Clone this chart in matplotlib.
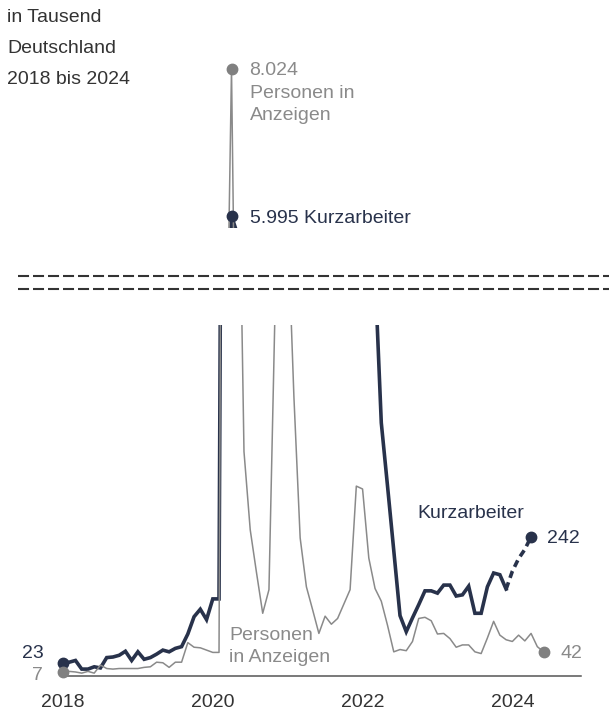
import numpy as np
import matplotlib
matplotlib.use("Agg")
import matplotlib.pyplot as plt
from matplotlib.lines import Line2D

plt.rcParams['font.family'] = ['Liberation Sans', 'DejaVu Sans']

# Kurzarbeiter (in Tausend), Jan 2018 - Dez 2023
kurzarbeiter = [23, 24, 27, 12, 12, 16, 14, 32, 33, 36, 43, 27,
                42, 29, 32, 38, 45, 42, 48, 51, 73, 103, 116, 98,
                134, 134, 2600, 5995, 5730, 4460, 3330, 2550, 2220, 2040, 2390, 2400,
                3250, 3190, 2560, 2340, 2280, 1610, 1080, 850, 760, 710, 870, 1000,
                1060, 920, 700, 440, 330, 218, 105, 77, 101, 124, 148, 148,
                144, 158, 158, 139, 141, 156, 109, 109, 155, 179, 176, 151]
# Hochrechnung Dez 2023 - Apr 2024
kurz_hochrechnung = [151, 182, 204, 220, 242]

# Personen in Anzeigen (in Tausend), Jan 2018 - Jun 2024
anzeigen = [7, 8, 7, 5, 8, 5, 19, 13, 12, 13, 13, 13,
            13, 15, 16, 24, 23, 15, 24, 24, 58, 50, 49, 45,
            41, 41, 2650, 8024, 1060, 390, 254, 180, 109, 150, 650, 700,
            790, 485, 240, 155, 115, 74, 104, 90, 100, 125, 150, 330,
            325, 205, 152, 130, 88, 42, 46, 44, 60, 100, 102, 96,
            73, 74, 65, 50, 54, 54, 42, 39, 66, 95, 71, 63,
            60, 71, 61, 74, 51, 42]

tick_pos = [0, 24, 48, 72]
tick_labels = ['2018', '2020', '2022', '2024']

navy = '#28324b'
grey = '#8a8a8a'
dark = '#333333'

def de(v):
    return f'{v:,}'.replace(',', '.')

m_kurz = np.arange(len(kurzarbeiter))
m_proj = np.arange(len(kurzarbeiter) - 1, len(kurzarbeiter) - 1 + len(kurz_hochrechnung))
m_anz = np.arange(len(anzeigen))
peak = int(np.argmax(anzeigen))

W, H = 609, 710
fig = plt.figure(figsize=(W / 100, H / 100), dpi=100)

def rect(x0, y0, x1, y1):
    return [x0 / W, 1 - y1 / H, (x1 - x0) / W, (y1 - y0) / H]

ax = fig.add_axes(rect(63, 325, 581, 676))
top = fig.add_axes(rect(63, 60, 581, 228))

for a in (ax, top):
    a.plot(m_kurz, kurzarbeiter, color=navy, lw=2.6, solid_joinstyle='miter', zorder=2)
    a.plot(m_proj, kurz_hochrechnung, color=navy, lw=2.6, ls=(0, (2, 1.3)), zorder=2)
    a.plot(m_anz, anzeigen, color=grey, lw=1.1, zorder=3)
    a.set_xlim(0, 83)
    for s in a.spines.values():
        s.set_visible(False)
    a.set_yticks([])

ax.set_ylim(0, 610)
top.set_ylim(5829, 8148)
top.set_xticks([])

ax.spines['bottom'].set_visible(True)
ax.spines['bottom'].set_color('#555555')
ax.spines['bottom'].set_linewidth(1.1)
ax.set_xticks(tick_pos, tick_labels)
ax.tick_params(axis='x', length=0, pad=13, labelsize=14, labelcolor=dark)

# Endpunkte
ax.plot([0], [kurzarbeiter[0]], 'o', color=navy, ms=7.5, clip_on=False, zorder=4)
ax.plot([0], [anzeigen[0]], 'o', color='#808080', ms=7.5, clip_on=False, zorder=5)
ax.plot([m_proj[-1]], [kurz_hochrechnung[-1]], 'o', color=navy, ms=7.5, clip_on=False, zorder=4)
ax.plot([m_anz[-1]], [anzeigen[-1]], 'o', color='#808080', ms=7.5, clip_on=False, zorder=5)
top.plot([peak], [anzeigen[peak]], 'o', color='#808080', ms=7.5, clip_on=False, zorder=5)
top.plot([peak], [kurzarbeiter[peak]], 'o', color=navy, ms=7.5, clip_on=False, zorder=4)

fs = 14
def lab(a, x, y, s, dx, dy, c, ha='left'):
    a.annotate(s, xy=(x, y), xytext=(dx, dy), textcoords='offset points',
               ha=ha, va='baseline', fontsize=fs, color=c, annotation_clip=False)

lab(ax, 0, kurzarbeiter[0], str(kurzarbeiter[0]), -14, 3.4, navy, 'right')
lab(ax, 0, anzeigen[0], str(anzeigen[0]), -14.5, -5.8, grey, 'right')
lab(ax, m_proj[-1], kurz_hochrechnung[-1], str(kurz_hochrechnung[-1]), 11.2, -4.3, navy)
lab(ax, m_anz[-1], anzeigen[-1], str(anzeigen[-1]), 12, -4.8, grey)
lab(top, peak, anzeigen[peak], de(anzeigen[peak]), 13, -4.3, grey)
lab(top, peak, anzeigen[peak], 'Personen in', 13, -20.9, grey)
lab(top, peak, anzeigen[peak], 'Anzeigen', 13, -36.7, grey)
lab(top, peak, kurzarbeiter[peak], de(kurzarbeiter[peak]) + ' Kurzarbeiter', 13, -5, navy)

ax.text(56.8, 274, 'Kurzarbeiter', fontsize=fs, color=navy, va='baseline')
ax.text(26.6, 62.6, 'Personen', fontsize=fs, color=grey, va='baseline')
ax.text(26.6, 24.9, 'in Anzeigen', fontsize=fs, color=grey, va='baseline')

for i, t in enumerate(['in Tausend', 'Deutschland', '2018 bis 2024']):
    fig.text(7 / W, 1 - (21.7 + 31 * i) / H, t, fontsize=fs, color=dark, va='baseline')

# Achsenbruch
for yb in (276, 289):
    fig.add_artist(Line2D([18 / W, 1], [1 - yb / H] * 2, transform=fig.transFigure,
                          color=dark, lw=1.5, ls=(0, (5.3, 1.9))))

fig.savefig('out.png', dpi=100)
